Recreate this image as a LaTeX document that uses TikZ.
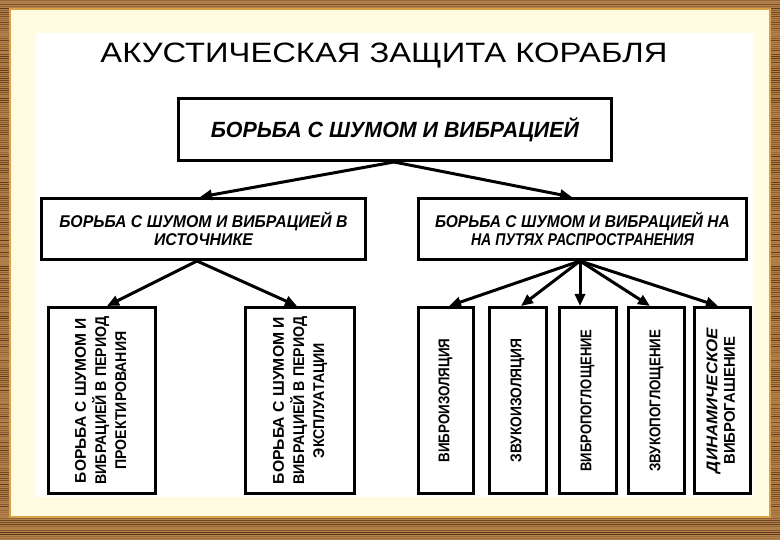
\documentclass[tikz,border=0pt]{standalone}
\usepackage{fontspec}
\usepackage{graphicx}
\setmainfont{Liberation Sans}
\usetikzlibrary{arrows.meta}
\definecolor{woodlight}{HTML}{B3804A}
\definecolor{wooddark}{HTML}{5C3819}
\definecolor{cream}{HTML}{FFFCE2}
\definecolor{goldedge}{HTML}{D9A24A}
\newcommand\fitw[2]{\resizebox{#1pt}{\height}{#2}}
\begin{document}
\begin{tikzpicture}[x=1pt,y=-1pt,
  box/.style={draw=black, line width=3pt, fill=white, inner sep=0pt},
  arr/.style={line width=3pt, -{Triangle[length=12pt,width=10pt]}},
  htxt/.style={font=\bfseries\itshape\fontsize{17}{18.5}\selectfont, align=center},
  vtxt/.style={font=\bfseries\fontsize{15.5}{20}\selectfont}]
\useasboundingbox (0,0) rectangle (780,540);
% wooden frame
\fill[woodlight] (0,0) rectangle (780,540);
\pgfmathsetseed{11}
\foreach \yy in {0,2,...,540}{
  \pgfmathtruncatemacro\s{100*rnd}
  \fill[woodlight!\s!wooddark] (0,\yy) rectangle (780,\yy+1.4);
}
\fill[cream] (10,9) rectangle (770,517);
\draw[goldedge, line width=1.5pt] (10,9) rectangle (770,517);
\fill[white] (36,33) rectangle (754,497);
% title
\node[anchor=base, font=\fontsize{28}{28}\selectfont] (title) at (384,63)
  {\fitw{567}{АКУСТИЧЕСКАЯ ЗАЩИТА КОРАБЛЯ}};
% level 1
\node[box, minimum width=433pt, minimum height=62pt] (top) at (395,129.5)
  {\fitw{368}{\bfseries\itshape\fontsize{22}{22}\selectfont БОРЬБА С ШУМОМ И ВИБРАЦИЕЙ}};
% level 2
\node[box, minimum width=324pt, minimum height=61pt, htxt] (l2) at (203.5,229)
  {\fitw{288}{БОРЬБА С ШУМОМ И ВИБРАЦИЕЙ В}\\ \fitw{99}{ИСТОЧНИКЕ}};
\node[box, minimum width=328pt, minimum height=61pt, htxt] (r2) at (582.5,229)
  {\fitw{295}{БОРЬБА С ШУМОМ И ВИБРАЦИЕЙ НА}\\ \fitw{223}{НА ПУТЯХ РАСПРОСТРАНЕНИЯ}};
% level 3 left
\node[box, minimum width=107pt, minimum height=186pt, vtxt] (b1) at (102,400.5)
  {\rotatebox{90}{\begin{tabular}{@{}c@{}}\fitw{165}{БОРЬБА С ШУМОМ И}\\ \fitw{168}{ВИБРАЦИЕЙ В ПЕРИОД}\\ \fitw{138}{ПРОЕКТИРОВАНИЯ}\end{tabular}}};
\node[box, minimum width=109pt, minimum height=186pt, vtxt] (b2) at (300,400.5)
  {\rotatebox{90}{\begin{tabular}{@{}c@{}}\fitw{167}{БОРЬБА С ШУМОМ И}\\ \fitw{168}{ВИБРАЦИЕЙ В ПЕРИОД}\\ \fitw{115}{ЭКСПЛУАТАЦИИ}\end{tabular}}};
% level 3 right
\node[box, minimum width=55pt, minimum height=186pt, vtxt] (va) at (445.5,400.5)
  {\rotatebox{90}{\fitw{124}{ВИБРОИЗОЛЯЦИЯ}}};
\node[box, minimum width=57pt, minimum height=186pt, vtxt] (vb) at (517.5,400.5)
  {\rotatebox{90}{\fitw{124}{ЗВУКОИЗОЛЯЦИЯ}}};
\node[box, minimum width=57pt, minimum height=186pt, vtxt] (vc) at (587.5,400.5)
  {\rotatebox{90}{\fitw{142}{ВИБРОПОГЛОЩЕНИЕ}}};
\node[box, minimum width=56pt, minimum height=186pt, vtxt] (vd) at (656.5,400.5)
  {\rotatebox{90}{\fitw{142}{ЗВУКОПОГЛОЩЕНИЕ}}};
\node[box, minimum width=56pt, minimum height=186pt, font=\bfseries\fontsize{15.5}{17.5}\selectfont] (ve) at (722.5,400.5)
  {\rotatebox{90}{\begin{tabular}{@{}c@{}}\fitw{145}{\itshape ДИНАМИЧЕСКОЕ}\\ \fitw{128}{ВИБРОГАШЕНИЕ}\end{tabular}}};
% connectors
\draw[arr] ([xshift=-1pt]top.south) -- ([xshift=-3.5pt]l2.north);
\draw[arr] ([xshift=-1pt]top.south) -- ([xshift=-10.5pt]r2.north);
\draw[arr] ([xshift=-6.5pt]l2.south) -- ([xshift=5pt]b1.north);
\draw[arr] ([xshift=-6.5pt]l2.south) -- ([xshift=-3pt]b2.north);
\draw[arr] ([xshift=-2.5pt]r2.south) -- ([xshift=3.5pt]va.north);
\draw[arr] ([xshift=-2.5pt]r2.south) -- ([xshift=3.5pt]vb.north);
\draw[arr] ([xshift=-2.5pt]r2.south) -- ([xshift=-7.5pt]vc.north);
\draw[arr] ([xshift=-2.5pt]r2.south) -- ([xshift=-6.5pt]vd.north);
\draw[arr] ([xshift=-2.5pt]r2.south) -- ([xshift=-4.5pt]ve.north);
\end{tikzpicture}
\end{document}
